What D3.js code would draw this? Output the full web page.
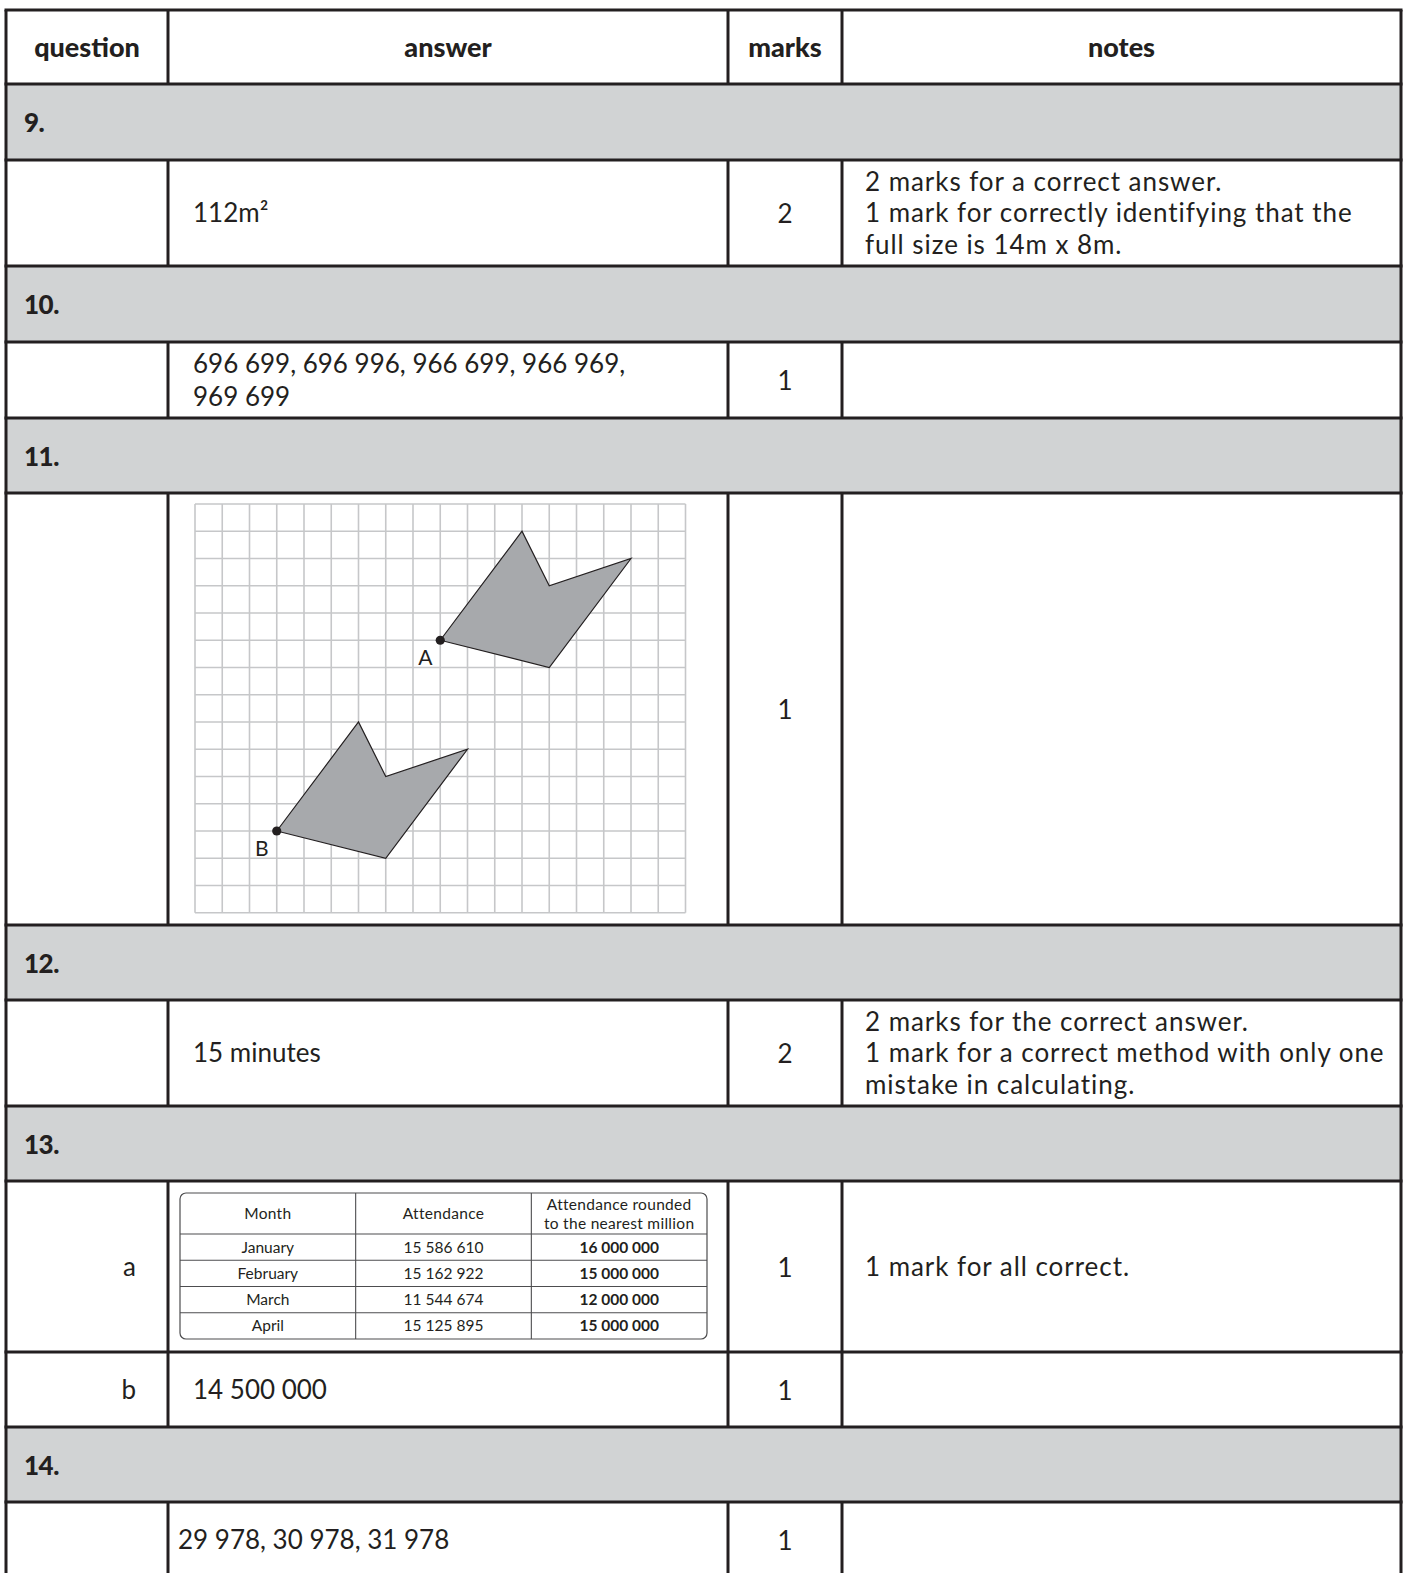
<!DOCTYPE html>
<html>
<head>
<meta charset="utf-8">
<script src="https://cdn.jsdelivr.net/npm/d3@7"></script>
<style>
  body { margin: 0; background: #fff; }
  text { font-family: Lato, "Open Sans", sans-serif; fill: #231f20; }
</style>
</head>
<body>
<div id="chart-area"></div>
<script>
// table content
var headers = ["question", "answer", "marks", "notes"];
var questionNums = ["9.", "10.", "11.", "12.", "13.", "14."];
var partLabels = ["", "", "", "", "a", "b", ""];
var answerLines = [
    ["112m²"],
    ["696 699, 696 996, 966 699, 966 969,", "969 699"],
    [],
    ["15 minutes"],
    [],
    ["14 500 000"],
    ["29 978, 30 978, 31 978"]
];
var marks = [2, 1, 1, 2, 1, 1, 1];
var notes = [
    ["2 marks for a correct answer.", "1 mark for correctly identifying that the", "full size is 14m x 8m."],
    [],
    [],
    ["2 marks for the correct answer.", "1 mark for a correct method with only one", "mistake in calculating."],
    ["1 mark for all correct."],
    [],
    []
];

// grid question (grid units)
var gridCols = 18, gridRows = 15;
var shapeA = [[9, 5], [12, 1], [13, 3], [16, 2], [13, 6]];
var shapeB = [[3, 12], [6, 8], [7, 10], [10, 9], [7, 13]];
var shapeLabels = ["A", "B"];

// attendance table
var monthCols = ["Month", "Attendance", "Attendance rounded|to the nearest million"];
var months = ["January", "February", "March", "April"];
var attendance = ["15 586 610", "15 162 922", "11 544 674", "15 125 895"];
var rounded = ["16 000 000", "15 000 000", "12 000 000", "15 000 000"];

// layout
var W = 1405, H = 1573;
var colEdges = [6, 168, 728, 842, 1401];
var rowEdges = [10, 84, 160, 266, 342, 418, 493, 925, 1000, 1106, 1181, 1352, 1427, 1502, 1577];
var rowKinds = ["head", "sec", "ans", "sec", "ans", "sec", "ans", "sec", "ans", "sec", "ans", "ans", "sec", "ans"];
var answerX = [193, 193, 193, 193, 193, 193, 178];
var ink = "#231f20";

var svg = d3.select("#chart-area")
    .append("svg")
    .attr("width", W)
    .attr("height", H);

var rows = rowKinds.map(function(k, i) {
    return { kind: k, y0: rowEdges[i], y1: rowEdges[i + 1] };
});

// section backgrounds
svg.selectAll("rect.sec")
    .data(rows.filter(r => r.kind == "sec"))
    .enter()
    .append("rect")
    .attr("class", "sec")
    .attr("x", colEdges[0])
    .attr("y", d => d.y0)
    .attr("width", colEdges[4] - colEdges[0])
    .attr("height", d => d.y1 - d.y0)
    .attr("fill", "#d1d3d4");

// header text
svg.selectAll("text.head")
    .data(headers)
    .enter()
    .append("text")
    .attr("class", "head")
    .attr("x", (d, i) => (colEdges[i] + colEdges[i + 1]) / 2)
    .attr("y", (rowEdges[0] + rowEdges[1]) / 2 + 10)
    .attr("text-anchor", "middle")
    .attr("font-size", 27)
    .attr("font-weight", 900)
    .text(d => d);

// section numbers
var secRows = rows.filter(r => r.kind == "sec");
svg.selectAll("text.qnum")
    .data(questionNums)
    .enter()
    .append("text")
    .attr("class", "qnum")
    .attr("x", 24)
    .attr("y", (d, i) => (secRows[i].y0 + secRows[i].y1) / 2 + 10)
    .attr("font-size", 26)
    .attr("font-weight", 900)
    .attr("letter-spacing", -0.5)
    .text(d => d);

// answer rows
var ansRows = rows.filter(r => r.kind == "ans");
ansRows.forEach(function(r, i) {
    var cy = (r.y0 + r.y1) / 2;

    if (partLabels[i]) {
        svg.append("text")
            .attr("x", 136)
            .attr("y", cy + 9)
            .attr("text-anchor", "end")
            .attr("font-size", 26)
            .text(partLabels[i]);
    }

    var lh = 33;
    answerLines[i].forEach(function(line, j) {
        svg.append("text")
            .attr("x", answerX[i])
            .attr("y", cy - (answerLines[i].length - 1) * lh / 2 + j * lh + 9)
            .attr("font-size", 26)
            .text(line);
    });

    svg.append("text")
        .attr("x", (colEdges[2] + colEdges[3]) / 2)
        .attr("y", cy + 10)
        .attr("text-anchor", "middle")
        .attr("font-size", 26)
        .text(marks[i]);

    var nh = 31.5;
    notes[i].forEach(function(line, j) {
        svg.append("text")
            .attr("x", 865)
            .attr("y", cy - (notes[i].length - 1) * nh / 2 + j * nh + 9)
            .attr("font-size", 26)
            .attr("letter-spacing", 0.95)
            .text(line);
    });
});

// grid question
var gx = d3.scaleLinear().domain([0, gridCols]).range([195, 685.5]);
var gy = d3.scaleLinear().domain([0, gridRows]).range([504, 912.75]);
var grid = svg.append("g");

grid.selectAll("line.v")
    .data(d3.range(gridCols + 1))
    .enter()
    .append("line")
    .attr("x1", d => gx(d)).attr("x2", d => gx(d))
    .attr("y1", gy(0)).attr("y2", gy(gridRows))
    .attr("stroke", "#c6c7c9")
    .attr("stroke-width", 1.6);

grid.selectAll("line.h")
    .data(d3.range(gridRows + 1))
    .enter()
    .append("line")
    .attr("y1", d => gy(d)).attr("y2", d => gy(d))
    .attr("x1", gx(0)).attr("x2", gx(gridCols))
    .attr("stroke", "#c6c7c9")
    .attr("stroke-width", 1.6);

var shapeLine = d3.line().x(d => gx(d[0])).y(d => gy(d[1])).curve(d3.curveLinearClosed);

grid.selectAll("path.shape")
    .data([shapeA, shapeB])
    .enter()
    .append("path")
    .attr("d", shapeLine)
    .attr("fill", "#a7a9ac")
    .attr("stroke", ink)
    .attr("stroke-width", 1.2)
    .attr("stroke-linejoin", "miter");

grid.selectAll("circle.pt")
    .data([shapeA[0], shapeB[0]])
    .enter()
    .append("circle")
    .attr("cx", d => gx(d[0]))
    .attr("cy", d => gy(d[1]))
    .attr("r", 4.6)
    .attr("fill", ink);

grid.selectAll("text.lbl")
    .data([shapeA[0], shapeB[0]])
    .enter()
    .append("text")
    .attr("x", d => gx(d[0]) - 15)
    .attr("y", d => gy(d[1]) + 25)
    .attr("text-anchor", "middle")
    .attr("font-size", 21)
    .text((d, i) => shapeLabels[i]);

// attendance table
var tx = d3.scaleBand().domain(monthCols).range([180, 707]);
var ty = d3.scaleBand().domain(months).range([1234, 1339]);
var tTop = 1193;
var tab = svg.append("g");

tab.selectAll("line.tr")
    .data(months)
    .enter()
    .append("line")
    .attr("x1", tx.range()[0]).attr("x2", tx.range()[1])
    .attr("y1", d => ty(d)).attr("y2", d => ty(d))
    .attr("stroke", "#4d4d4f")
    .attr("stroke-width", 1.1);

tab.selectAll("line.tc")
    .data(monthCols.slice(1))
    .enter()
    .append("line")
    .attr("x1", d => tx(d)).attr("x2", d => tx(d))
    .attr("y1", tTop).attr("y2", ty.range()[1])
    .attr("stroke", "#4d4d4f")
    .attr("stroke-width", 1.1);

tab.append("rect")
    .attr("x", tx.range()[0])
    .attr("y", tTop)
    .attr("width", tx.range()[1] - tx.range()[0])
    .attr("height", ty.range()[1] - tTop)
    .attr("rx", 6)
    .attr("fill", "none")
    .attr("stroke", "#4d4d4f")
    .attr("stroke-width", 1.2);

monthCols.forEach(function(c) {
    var parts = c.split("|");
    var cx = tx(c) + tx.bandwidth() / 2;
    var cy = (tTop + ty.range()[0]) / 2;
    parts.forEach(function(p, j) {
        tab.append("text")
            .attr("x", cx)
            .attr("y", cy - (parts.length - 1) * 9.5 + j * 19 + 5.5)
            .attr("text-anchor", "middle")
            .attr("font-size", 15.5)
            .attr("letter-spacing", 0.3)
            .text(p);
    });
});

var cells = [months, attendance, rounded];
cells.forEach(function(col, ci) {
    tab.selectAll("text.c" + ci)
        .data(col)
        .enter()
        .append("text")
        .attr("x", tx(monthCols[ci]) + tx.bandwidth() / 2)
        .attr("y", (d, i) => ty(months[i]) + ty.bandwidth() / 2 + 5.5)
        .attr("text-anchor", "middle")
        .attr("font-size", 15.5)
        .attr("font-weight", ci == 2 ? 700 : 400)
        .text(d => d);
});

// table rules
svg.selectAll("line.hr")
    .data(rowEdges)
    .enter()
    .append("line")
    .attr("x1", colEdges[0] - 1.5).attr("x2", colEdges[4] + 1.5)
    .attr("y1", d => d).attr("y2", d => d)
    .attr("stroke", ink)
    .attr("stroke-width", 3);

rows.forEach(function(r) {
    var xs = r.kind == "sec" ? [colEdges[0], colEdges[4]] : colEdges;
    xs.forEach(function(x) {
        svg.append("line")
            .attr("x1", x).attr("x2", x)
            .attr("y1", r.y0).attr("y2", r.y1)
            .attr("stroke", ink)
            .attr("stroke-width", 3);
    });
});
</script>
</body>
</html>
